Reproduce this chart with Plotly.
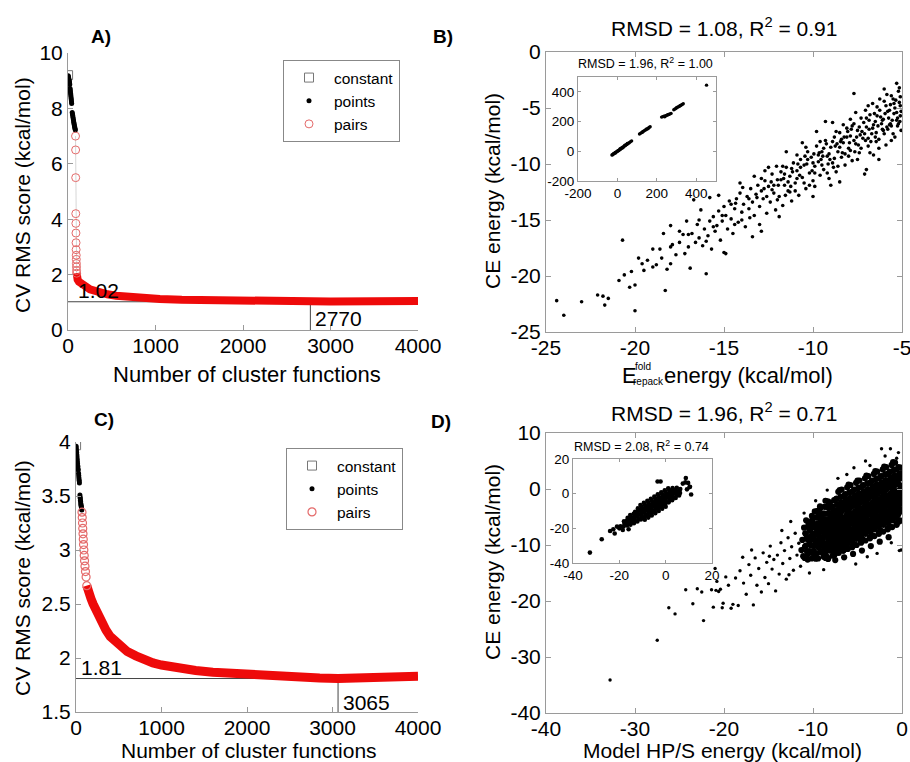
import plotly.graph_objects as go

FONT = "Liberation Sans, Arial, Helvetica, sans-serif"
W, H = 910, 762

# ---------------- Panel A data ----------------
A_const_x = [1]
A_const_y = [9.2]
A_points_x = [2, 4, 6, 8, 10, 12, 14, 16, 18, 20,
              24, 26, 28, 30, 32, 34, 36, 38, 40, 42,
              48, 51, 54, 57, 60, 63, 66, 69, 72, 75, 78, 81, 84]
A_points_y = [9.18, 9.15, 9.12, 9.08, 9.05, 9.02, 8.98, 8.94, 8.90, 8.86,
              8.72, 8.66, 8.60, 8.54, 8.48, 8.42, 8.36, 8.30, 8.24, 8.18,
              7.85, 7.80, 7.74, 7.68, 7.62, 7.56, 7.50, 7.45, 7.40, 7.35, 7.30, 7.26, 7.22]
A_pairs_x = [86, 87, 88, 89, 90, 91, 92, 93, 94, 95, 96, 97, 98, 99,
             100, 110, 125, 150, 175, 213, 250, 300, 366, 450, 550, 670, 800,
             1050, 1300, 1600, 2150, 2500, 2770, 3000, 3500, 4000]
A_pairs_y = [7.0, 6.5, 5.5, 4.2, 3.85, 3.5, 3.15, 2.9, 2.7, 2.55, 2.4, 2.28, 2.15, 2.05,
             1.9, 1.82, 1.74, 1.66, 1.6, 1.55, 1.47, 1.41, 1.35, 1.29, 1.24, 1.2, 1.16,
             1.12, 1.09, 1.07, 1.05, 1.035, 1.02, 1.03, 1.04, 1.05]
A_steep_n = 14
A_best_x = 2770
A_best_y = 1.02

# ---------------- Panel C data ----------------
C_const_x = [1]
C_const_y = [3.97]
C_points_x = [2, 4, 6, 8, 10, 12, 14, 16, 18, 20, 22, 24, 26,
              30, 32, 34, 36, 38, 40,
              46, 48, 50, 52, 54, 56, 58, 60, 62, 64, 66, 68]
C_points_y = [3.96, 3.94, 3.92, 3.90, 3.88, 3.86, 3.84, 3.82, 3.80, 3.78, 3.77, 3.75, 3.74,
              3.71, 3.69, 3.67, 3.65, 3.64, 3.62,
              3.51, 3.49, 3.48, 3.46, 3.45, 3.43, 3.42, 3.41, 3.40, 3.39, 3.38, 3.37]
C_pairs_x = [70, 73, 76, 79, 82, 85, 88, 92, 96, 100, 105, 111, 118, 126,
             135, 150, 175, 200, 250, 300, 350, 400, 450, 500, 600, 700, 800, 900,
             1000, 1200, 1400, 1600, 1800, 2000, 2300, 2600, 2850, 3065, 3300, 3600, 3800, 4000]
C_pairs_y = [3.35, 3.3, 3.25, 3.2, 3.15, 3.1, 3.05, 3.0, 2.95, 2.9, 2.85, 2.8, 2.75, 2.67,
             2.63, 2.6, 2.55, 2.5, 2.41, 2.33, 2.26, 2.2, 2.16, 2.12, 2.06, 2.02, 1.98, 1.955,
             1.935, 1.905, 1.885, 1.868, 1.857, 1.846, 1.835, 1.822, 1.814, 1.81, 1.813, 1.818, 1.823, 1.83]
C_steep_n = 14
C_best_x = 3065
C_best_y = 1.81

# ---------------- Panel B data (CE vs E_repack) ----------------
B_main = [
    (-24.4, -22.2), (-24.0, -23.5), (-23.0, -22.3), (-22.1, -21.7), (-21.7, -22.6), (-21.5, -22.0),
    (-21.8, -21.8), (-20.0, -23.1), (-20.9, -20.4), (-20.7, -16.8), (-20.6, -19.9), (-20.3, -21.0),
    (-20.2, -19.6), (-20.0, -20.8), (-19.8, -18.4), (-19.6, -18.9), (-19.5, -19.5), (-19.3, -18.6),
    (-19.0, -19.2), (-18.8, -19.0), (-18.6, -17.6), (-18.5, -18.4), (-18.3, -21.3), (-18.2, -19.4),
    (-18.0, -18.9), (-17.9, -17.2), (-17.7, -18.1), (-17.5, -17.0), (-17.3, -16.3), (-17.2, -18.0),
    (-17.0, -17.4), (-16.8, -16.2), (-16.9, -19.3), (-16.6, -17.0), (-16.5, -15.4), (-16.4, -16.6),
    (-16.2, -17.3), (-16.0, -19.8), (-16.1, -15.8), (-15.9, -16.4), (-15.8, -15.1), (-15.7, -17.6),
    (-15.6, -14.7), (-15.5, -16.0), (-15.4, -15.5), (-15.3, -14.2), (-15.2, -16.8), (-15.1, -15.1),
    (-15.0, -13.8), (-14.9, -18.0), (-14.9, -14.6), (-14.8, -15.8), (-14.7, -13.3), (-14.6, -14.9),
    (-14.5, -16.2), (-14.4, -14.0), (-14.3, -13.1), (-14.2, -15.2), (-14.1, -12.6), (-14.0, -14.3),
    (-13.9, -13.6), (-13.8, -15.6), (-13.7, -12.9), (-13.6, -14.0), (-13.5, -12.2), (-13.4, -16.5),
    (-13.4, -13.4), (-13.3, -14.6), (-13.2, -12.7), (-13.1, -11.9), (-13.0, -13.8), (-12.9, -16.0),
    (-12.9, -12.4), (-12.8, -13.1), (-12.7, -11.5), (-12.6, -14.4), (-12.5, -12.0), (-12.4, -13.4),
    (-12.3, -10.9), (-12.2, -12.6), (-12.1, -14.1), (-12.0, -11.4), (-11.9, -12.9), (-11.8, -10.7),
    (-11.7, -13.7), (-11.6, -11.9), (-11.5, -10.3), (-11.4, -12.4), (-11.3, -11.1), (-11.2, -13.3),
    (-11.1, -9.9), (-11.0, -11.7), (-10.9, -10.6), (-10.8, -12.8), (-10.7, -9.6), (-10.6, -11.2),
    (-10.5, -10.1), (-10.4, -12.2), (-10.3, -8.9), (-10.2, -10.8), (-10.1, -9.4), (-10.0, -11.5),
    (-9.9, -10.2), (-9.8, -8.4), (-9.7, -9.8), (-9.6, -11.0), (-9.5, -8.9), (-9.4, -10.5),
    (-9.3, -7.9), (-9.2, -9.3), (-9.1, -11.3), (-9.0, -8.5), (-8.9, -9.9), (-8.8, -7.6),
    (-8.7, -10.7), (-8.6, -8.9), (-8.5, -7.2), (-8.4, -9.4), (-8.3, -8.1), (-8.2, -10.1),
    (-8.1, -6.8), (-8.0, -8.6), (-7.9, -7.5), (-7.8, -9.7), (-7.7, -6.4), (-7.6, -8.2),
    (-7.5, -7.0), (-7.4, -9.0), (-7.3, -5.9), (-7.2, -7.7), (-7.1, -10.9), (-7.0, -6.7),
    (-6.9, -8.4), (-6.8, -5.6), (-6.7, -7.3), (-6.6, -9.2), (-6.5, -6.2), (-6.4, -4.9),
    (-6.3, -7.8), (-6.2, -5.8), (-6.1, -6.9), (-6.0, -4.4), (-5.9, -8.3), (-5.8, -5.3),
    (-5.7, -6.5), (-5.6, -3.9), (-5.5, -7.3), (-5.4, -5.0), (-5.3, -6.1), (-5.2, -3.5),
    (-5.1, -5.7), (-5.05, -7.0),
    (-14.35, -13.5), (-13.95, -12.1), (-13.55, -14.8), (-13.15, -13.0), (-12.75, -12.2), (-12.35, -11.6),
    (-11.95, -11.9), (-11.55, -12.8), (-11.15, -10.7), (-10.75, -11.0), (-10.35, -10.0), (-9.95, -9.1),
    (-9.55, -9.6), (-9.15, -10.0), (-8.75, -8.4), (-8.35, -9.0), (-7.95, -8.1), (-7.55, -7.6),
    (-7.15, -6.3), (-6.75, -8.0), (-6.35, -6.6), (-5.95, -5.5), (-5.55, -6.1), (-5.15, -4.5),
    (-12.05, -10.2), (-11.65, -11.3), (-11.25, -12.0), (-10.85, -10.0), (-10.45, -9.3), (-10.05, -10.6),
    (-9.65, -9.0), (-9.25, -8.2), (-8.85, -10.3), (-8.45, -8.0), (-8.05, -7.1), (-7.65, -8.9),
    (-7.25, -7.1), (-6.85, -6.1), (-6.45, -7.2), (-6.05, -6.0), (-5.65, -4.7), (-5.25, -6.6),
    (-9.45, -9.3), (-9.05, -9.6), (-8.65, -8.2), (-8.25, -7.6), (-7.85, -6.9), (-7.45, -8.3),
    (-7.05, -7.9), (-6.65, -6.8), (-6.25, -5.2), (-5.85, -6.7), (-5.45, -5.5), (-5.1, -4.0),
    (-6.55, -5.5), (-6.15, -6.4), (-5.75, -5.9), (-5.35, -4.3), (-5.12, -6.2), (-5.6, -7.9),
    (-6.0, -3.3), (-5.3, -2.8), (-6.9, -4.8), (-7.9, -6.0), (-8.9, -6.3), (-9.8, -7.1),
    (-10.6, -8.1), (-11.5, -8.9), (-12.5, -10.3), (-13.3, -11.1), (-14.1, -11.7), (-15.3, -12.8),
    (-16.3, -14.1), (-17.1, -15.1), (-18.4, -16.2), (-7.0, -10.5), (-6.3, -9.6), (-8.5, -11.6),
    (-10.0, -12.9), (-11.9, -14.7), (-13.0, -15.4), (-15.0, -17.9), (-7.7, -3.7), (-9.3, -6.2),
    (-16.7, -13.2), (-15.8, -13.0), (-18.0, -15.5), (-17.5, -16.0),
    (-12.9, -11.3), (-12.6, -12.9), (-12.3, -12.3), (-12.0, -13.2), (-11.8, -11.4), (-11.6, -10.9),
    (-11.4, -11.6), (-11.2, -10.4), (-11.0, -12.4), (-10.9, -11.3), (-10.7, -10.3), (-10.5, -11.7),
    (-10.3, -9.6), (-10.2, -11.9), (-10.0, -9.9), (-9.9, -10.8), (-9.7, -9.2), (-9.5, -10.1),
    (-9.4, -8.6), (-9.2, -10.8), (-9.1, -9.1), (-8.9, -8.0), (-8.8, -9.5), (-8.6, -10.2),
    (-8.5, -8.5), (-8.4, -7.8), (-8.2, -9.1), (-8.1, -7.6), (-7.9, -8.8), (-7.8, -6.6),
    (-7.7, -7.9), (-7.5, -9.6), (-7.4, -6.7), (-7.3, -8.6), (-7.1, -7.3), (-7.0, -5.9),
    (-6.9, -7.7), (-6.8, -9.0), (-6.6, -6.5), (-6.5, -7.6), (-6.4, -5.7), (-6.3, -8.6),
    (-6.1, -6.1), (-6.0, -7.3), (-5.9, -4.8), (-5.8, -6.9), (-5.7, -5.2), (-5.6, -6.6),
    (-5.5, -4.2), (-5.4, -7.6), (-5.3, -5.4), (-5.2, -6.4), (-5.15, -3.2), (-5.1, -4.8),
    (-5.05, -5.3), (-5.25, -5.9), (-5.45, -4.6), (-5.65, -6.4), (-5.85, -3.8), (-6.05, -7.0),
    (-6.25, -4.2), (-6.45, -8.0), (-6.65, -4.6), (-6.85, -6.9), (-7.05, -5.2), (-7.35, -7.4),
    (-7.6, -5.4), (-8.0, -9.3), (-8.3, -6.5), (-8.7, -7.1), (-9.0, -11.9), (-9.6, -8.0),
    (-9.9, -12.0), (-10.4, -8.5), (-10.9, -9.2), (-11.3, -12.5), (-11.7, -10.2), (-12.2, -11.9),
    (-12.7, -10.6), (-13.6, -13.1), (-14.0, -15.0), (-14.6, -13.6), (-15.1, -14.6), (-15.6, -15.6),
    (-16.4, -15.0), (-17.0, -16.3), (-19.0, -17.6), (-18.0, -17.4), (-16.0, -16.9), (-14.4, -15.4),
]

B_inset = [
    (-28, -25), (-24, -23), (-20, -16), (-16, -15), (-12, -8), (-8, -9), (-4, -1), (0, -2),
    (4, 6), (8, 5), (12, 14), (16, 13), (20, 22), (24, 21), (28, 30), (32, 29), (36, 37),
    (40, 38), (44, 45), (48, 46), (52, 50), (56, 55), (60, 57), (66, 64), (72, 70),
    (-22, -20), (-10, -12), (2, 3), (14, 17), (26, 25), (38, 41), (50, 53),
    (112, 116), (118, 122), (124, 126), (130, 133), (136, 138), (142, 143), (148, 150),
    (154, 152), (160, 160), (166, 165), (128, 130), (146, 147), (158, 156),
    (224, 230), (230, 233), (236, 236), (242, 238), (248, 241), (254, 244), (260, 248),
    (266, 251), (272, 255), (240, 232), (256, 247),
    (286, 280), (292, 285), (298, 290), (304, 296), (310, 300), (316, 305), (322, 310),
    (328, 315), (334, 320), (300, 294), (318, 306),
    (452, 445),
]

# ---------------- Panel D data (CE vs HP/S) ----------------
D_main_core = [
    (-11.1, -12.0), (-10.9, -10.3), (-11.2, -9.1), (-10.8, -8.0), (-11.0, -6.9), (-11.3, -10.9),
    (-10.6, -11.6), (-10.4, -9.9), (-10.7, -8.6), (-10.3, -7.4), (-10.5, -6.2), (-10.6, -12.6), (-10.4, -9.3),
    (-10.1, -11.4), (-9.9, -10.2), (-10.2, -9.0), (-9.8, -7.9), (-10.0, -6.8), (-10.1, -5.6), (-9.9, -12.3), (-10.2, -8.4),
    (-9.6, -11.5), (-9.4, -10.4), (-9.7, -9.6), (-9.3, -8.7), (-9.5, -7.9), (-9.6, -7.0), (-9.4, -6.1), (-9.2, -5.0), (-9.7, -12.4), (-9.5, -3.9),
    (-9.1, -11.3), (-8.9, -10.1), (-9.2, -9.2), (-8.8, -8.4), (-9.0, -7.5), (-9.1, -6.6), (-8.9, -5.7), (-9.0, -4.6), (-8.8, -12.1), (-9.2, -3.5),
    (-8.6, -11.6), (-8.4, -10.6), (-8.7, -9.7), (-8.3, -8.9), (-8.5, -8.0), (-8.6, -7.2), (-8.4, -6.4), (-8.2, -5.5), (-8.7, -4.4), (-8.5, -3.2), (-8.3, -12.5), (-8.6, -2.1),
    (-8.1, -11.0), (-7.9, -10.1), (-8.2, -9.3), (-7.8, -8.5), (-8.0, -7.7), (-8.1, -6.9), (-7.9, -6.1), (-7.7, -5.3), (-8.2, -4.3), (-8.0, -3.3), (-7.8, -11.9), (-8.1, -2.4),
    (-7.6, -10.8), (-7.4, -9.9), (-7.7, -9.1), (-7.3, -8.3), (-7.5, -7.6), (-7.6, -6.9), (-7.4, -6.2), (-7.2, -5.5), (-7.7, -4.7), (-7.5, -3.8), (-7.3, -2.8), (-7.6, -11.8), (-7.4, -1.8), (-7.5, -12.7),
    (-7.1, -10.5), (-6.9, -9.6), (-7.2, -8.7), (-6.8, -7.9), (-7.0, -7.2), (-7.1, -6.5), (-6.9, -5.8), (-6.7, -5.1), (-7.2, -4.3), (-7.0, -3.4), (-6.8, -2.4), (-7.1, -11.4), (-6.9, -1.4), (-7.0, -0.2),
    (-6.6, -10.1), (-6.4, -9.2), (-6.7, -8.4), (-6.3, -7.6), (-6.5, -6.8), (-6.6, -6.1), (-6.4, -5.4), (-6.2, -4.7), (-6.7, -3.9), (-6.5, -3.0), (-6.3, -2.0), (-6.6, -11.0), (-6.4, -1.0), (-6.5, -12.2),
    (-6.1, -9.7), (-5.9, -8.8), (-6.2, -8.0), (-5.8, -7.2), (-6.0, -6.5), (-6.1, -5.8), (-5.9, -5.1), (-5.7, -4.4), (-6.2, -3.6), (-6.0, -2.7), (-5.8, -1.7), (-6.1, -10.7), (-5.9, -0.6), (-6.0, 0.8),
    (-5.6, -9.3), (-5.4, -8.4), (-5.7, -7.6), (-5.3, -6.8), (-5.5, -6.1), (-5.6, -5.4), (-5.4, -4.7), (-5.2, -4.0), (-5.7, -3.2), (-5.5, -2.3), (-5.3, -1.3), (-5.6, -10.4), (-5.4, -0.2), (-5.5, -11.6),
    (-5.1, -8.9), (-4.9, -8.0), (-5.2, -7.2), (-4.8, -6.4), (-5.0, -5.7), (-5.1, -5.0), (-4.9, -4.3), (-4.7, -3.6), (-5.2, -2.8), (-5.0, -1.9), (-4.8, -0.9), (-5.1, -10.0), (-4.9, 0.2), (-5.0, 1.5),
    (-4.6, -8.5), (-4.4, -7.6), (-4.7, -6.8), (-4.3, -6.0), (-4.5, -5.3), (-4.6, -4.6), (-4.4, -3.9), (-4.2, -3.2), (-4.7, -2.4), (-4.5, -1.5), (-4.3, -0.5), (-4.6, -9.6), (-4.4, 0.6), (-4.5, -11.0),
    (-4.1, -8.0), (-3.9, -7.2), (-4.2, -6.4), (-3.8, -5.6), (-4.0, -4.9), (-4.1, -4.2), (-3.9, -3.5), (-3.7, -2.8), (-4.2, -2.0), (-4.0, -1.1), (-3.8, -0.1), (-4.1, -9.2), (-3.9, 1.0), (-4.0, 2.4),
    (-3.6, -7.6), (-3.4, -6.8), (-3.7, -6.0), (-3.3, -5.2), (-3.5, -4.5), (-3.6, -3.8), (-3.4, -3.1), (-3.2, -2.4), (-3.7, -1.6), (-3.5, -0.7), (-3.3, 0.3), (-3.6, -8.8), (-3.4, 1.4), (-3.5, -10.2),
    (-3.1, -7.2), (-2.9, -6.4), (-3.2, -5.6), (-2.8, -4.8), (-3.0, -4.1), (-3.1, -3.4), (-2.9, -2.7), (-2.7, -2.0), (-3.2, -1.2), (-3.0, -0.3), (-2.8, 0.7), (-3.1, -8.4), (-2.9, 1.8), (-3.0, 3.2),
    (-2.6, -6.8), (-2.4, -6.0), (-2.7, -5.2), (-2.3, -4.4), (-2.5, -3.7), (-2.6, -3.0), (-2.4, -2.3), (-2.2, -1.6), (-2.7, -0.8), (-2.5, 0.1), (-2.3, 1.1), (-2.6, -8.0), (-2.4, 2.2), (-2.5, -9.4),
    (-2.1, -6.4), (-1.9, -5.6), (-2.2, -4.8), (-1.8, -4.0), (-2.0, -3.3), (-2.1, -2.6), (-1.9, -1.9), (-1.7, -1.2), (-2.2, -0.4), (-2.0, 0.5), (-1.8, 1.5), (-2.1, -7.6), (-1.9, 2.6), (-2.0, 4.0),
    (-1.6, -6.0), (-1.4, -5.2), (-1.7, -4.4), (-1.3, -3.6), (-1.5, -2.9), (-1.6, -2.2), (-1.4, -1.5), (-1.2, -0.8), (-1.7, 0.0), (-1.5, 0.9), (-1.3, 1.9), (-1.6, -7.2), (-1.4, 3.0), (-1.5, -8.6),
    (-1.1, -5.6), (-0.9, -4.8), (-1.2, -4.0), (-0.8, -3.2), (-1.0, -2.5), (-1.1, -1.8), (-0.9, -1.1), (-0.7, -0.4), (-1.2, 0.4), (-1.0, 1.3), (-0.8, 2.3), (-1.1, -6.8), (-0.9, 3.4), (-1.0, 4.8),
    (-0.6, -5.2), (-0.4, -4.4), (-0.7, -3.6), (-0.3, -2.8), (-0.5, -2.1), (-0.6, -1.4), (-0.4, -0.7), (-0.2, 0.0), (-0.7, 0.8), (-0.5, 1.7), (-0.3, 2.7), (-0.6, -6.4),
    (-0.15, -4.0), (-0.1, -2.4), (-0.2, -0.9), (-0.1, 0.6), (-0.15, 2.0), (-0.1, 3.8), (-0.2, -5.6),
    (-10.93, -12.3), (-10.68, -11.1), (-10.8, -10.1), (-10.6, -9.0), (-10.87, -7.9), (-10.55, -6.7), (-10.77, -5.6),
    (-10.14, -12.4), (-10.41, -11.1), (-10.2, -10.1), (-10.34, -9.2), (-10.09, -8.2), (-10.43, -7.1), (-10.27, -5.9), (-10.12, -4.8),
    (-9.68, -12.4), (-9.91, -11.1), (-9.6, -10.0), (-9.87, -9.0), (-9.71, -8.1), (-9.55, -7.2), (-9.93, -6.2), (-9.64, -5.1), (-9.8, -4.0),
    (-9.43, -12.4), (-9.18, -11.1), (-9.3, -10.0), (-9.1, -9.1), (-9.37, -8.2), (-9.05, -7.3), (-9.27, -6.4), (-9.14, -5.4), (-9.41, -4.3), (-9.21, -3.1),
    (-8.59, -12.3), (-8.84, -11.0), (-8.7, -9.9), (-8.9, -9.0), (-8.63, -8.1), (-8.95, -7.2), (-8.77, -6.3), (-8.6, -5.4), (-8.86, -4.4), (-8.71, -3.2),
    (-8.43, -12.1), (-8.18, -10.8), (-8.3, -9.8), (-8.1, -8.9), (-8.37, -8.0), (-8.05, -7.1), (-8.27, -6.2), (-8.14, -5.3), (-8.41, -4.4), (-8.21, -3.4), (-8.34, -2.2),
    (-7.6, -11.7), (-7.86, -10.5), (-7.7, -9.5), (-7.93, -8.6), (-7.64, -7.7), (-7.81, -6.8), (-7.57, -5.9), (-7.9, -5.0), (-7.69, -4.1), (-7.84, -3.1), (-7.62, -2.0),
    (-7.43, -11.4), (-7.18, -10.2), (-7.3, -9.2), (-7.1, -8.3), (-7.37, -7.4), (-7.05, -6.5), (-7.27, -5.6), (-7.14, -4.7), (-7.41, -3.8), (-7.21, -2.8), (-7.34, -1.7), (-7.16, -0.5),
    (-6.6, -11.0), (-6.86, -9.8), (-6.7, -8.8), (-6.93, -7.9), (-6.64, -7.0), (-6.81, -6.1), (-6.57, -5.2), (-6.9, -4.3), (-6.69, -3.4), (-6.84, -2.4), (-6.62, -1.3), (-6.78, -0.1),
    (-6.43, -10.6), (-6.18, -9.4), (-6.3, -8.4), (-6.1, -7.5), (-6.37, -6.6), (-6.05, -5.7), (-6.27, -4.8), (-6.14, -3.9), (-6.41, -3.0), (-6.21, -2.0), (-6.34, -0.9), (-6.16, 0.3),
    (-5.6, -10.2), (-5.86, -9.0), (-5.7, -8.0), (-5.93, -7.1), (-5.64, -6.2), (-5.81, -5.3), (-5.57, -4.4), (-5.9, -3.5), (-5.69, -2.6), (-5.84, -1.6), (-5.62, -0.5), (-5.78, 0.7),
    (-5.43, -9.8), (-5.18, -8.6), (-5.3, -7.6), (-5.1, -6.7), (-5.37, -5.8), (-5.05, -4.9), (-5.27, -4.0), (-5.14, -3.1), (-5.41, -2.2), (-5.21, -1.2), (-5.34, -0.1), (-5.16, 1.1),
    (-4.6, -9.4), (-4.86, -8.2), (-4.7, -7.2), (-4.93, -6.3), (-4.64, -5.4), (-4.81, -4.5), (-4.57, -3.6), (-4.9, -2.7), (-4.69, -1.8), (-4.84, -0.8), (-4.62, 0.3), (-4.78, 1.5),
    (-4.43, -9.0), (-4.18, -7.8), (-4.3, -6.8), (-4.1, -5.9), (-4.37, -5.0), (-4.05, -4.1), (-4.27, -3.2), (-4.14, -2.3), (-4.41, -1.4), (-4.21, -0.4), (-4.34, 0.7), (-4.16, 1.9),
    (-3.6, -8.6), (-3.86, -7.4), (-3.7, -6.4), (-3.93, -5.5), (-3.64, -4.6), (-3.81, -3.7), (-3.57, -2.8), (-3.9, -1.9), (-3.69, -1.0), (-3.84, 0.0), (-3.62, 1.1), (-3.78, 2.3),
    (-3.43, -8.2), (-3.18, -7.0), (-3.3, -6.0), (-3.1, -5.1), (-3.37, -4.2), (-3.05, -3.3), (-3.27, -2.4), (-3.14, -1.5), (-3.41, -0.6), (-3.21, 0.4), (-3.34, 1.5), (-3.16, 2.7),
    (-2.6, -7.8), (-2.86, -6.6), (-2.7, -5.6), (-2.93, -4.7), (-2.64, -3.8), (-2.81, -2.9), (-2.57, -2.0), (-2.9, -1.1), (-2.69, -0.2), (-2.84, 0.8), (-2.62, 1.9), (-2.78, 3.1),
    (-2.43, -7.4), (-2.18, -6.2), (-2.3, -5.2), (-2.1, -4.3), (-2.37, -3.4), (-2.05, -2.5), (-2.27, -1.6), (-2.14, -0.7), (-2.41, 0.2), (-2.21, 1.2), (-2.34, 2.3), (-2.16, 3.5),
    (-1.6, -7.0), (-1.86, -5.8), (-1.7, -4.8), (-1.93, -3.9), (-1.64, -3.0), (-1.81, -2.1), (-1.57, -1.2), (-1.9, -0.3), (-1.69, 0.6), (-1.84, 1.6), (-1.62, 2.7), (-1.78, 3.9),
    (-1.43, -6.6), (-1.18, -5.4), (-1.3, -4.4), (-1.1, -3.5), (-1.37, -2.6), (-1.05, -1.7), (-1.27, -0.8), (-1.14, 0.1), (-1.41, 1.0), (-1.21, 2.0), (-1.34, 3.1), (-1.16, 4.3),
    (-0.6, -6.2), (-0.86, -5.0), (-0.7, -4.0), (-0.93, -3.1), (-0.64, -2.2), (-0.81, -1.3), (-0.57, -0.4), (-0.9, 0.5), (-0.69, 1.4), (-0.84, 2.4), (-0.62, 3.5), (-0.78, 4.7),
    (-0.3, -5.8), (-0.45, -4.6), (-0.25, -3.6), (-0.4, -2.7), (-0.2, -1.8), (-0.35, -0.9), (-0.15, 0.0), (-0.42, 0.9), (-0.28, 1.8), (-0.12, 2.8), (-0.38, 3.9),
]
D_main_sparse = [
    (-21.0, -14.2), (-20.8, -16.5), (-20.6, -18.3), (-20.4, -17.9), (-20.1, -20.4), (-19.5, -17.2),
    (-19.0, -20.6), (-18.7, -15.9), (-18.4, -20.8), (-18.2, -14.6), (-17.8, -16.8), (-17.5, -18.8),
    (-17.2, -13.5), (-17.0, -15.4), (-16.7, -20.7), (-16.5, -12.3), (-16.3, -17.2), (-16.1, -14.2),
    (-15.8, -18.4), (-15.6, -11.4), (-15.4, -15.8), (-15.2, -13.1), (-15.0, -16.9), (-14.8, -10.2),
    (-14.6, -14.3), (-14.4, -12.6), (-14.2, -18.2), (-14.0, -11.8), (-13.8, -15.2), (-13.6, -9.6),
    (-13.4, -13.3), (-13.2, -11.0), (-13.0, -16.1), (-12.8, -8.7), (-12.6, -12.4), (-12.4, -10.3),
    (-12.2, -14.5), (-12.0, -7.9), (-11.8, -11.8), (-11.6, -9.7), (-11.4, -13.8), (-12.7, -15.3),
    (-13.5, -7.4), (-14.9, -12.0), (-16.9, -10.9), (-17.9, -12.2), (-19.8, -15.7), (-21.4, -18.0),
    (-22.5, -18.4),
    (-32.8, -34.1), (-27.5, -27.0), (-26.2, -21.2), (-25.5, -22.3), (-24.3, -18.0), (-23.5, -20.5),
    (-22.3, -23.5), (-21.2, -21.1), (-20.9, -18.1), (-20.2, -21.2), (-19.2, -21.3), (-23.0, -17.8),
    (-2.3, 7.2), (-1.3, 7.2), (-0.6, 5.5), (-1.9, 5.9), (-3.6, 4.2), (-5.4, 3.8), (-7.2, 1.9),
    (-8.4, -0.2), (-9.7, -2.1), (-11.0, -4.3), (-12.5, -5.8), (-6.2, 2.6), (-4.1, 5.0), (-0.4, 6.5),
    (-0.3, -11.0), (-2.8, -11.5), (-5.2, -13.4), (-8.8, -14.4), (-10.4, -15.0), (-1.2, -9.6), (-3.9, -12.1),
    (-0.1, -10.9),
]
D_inset = [
    (-18.2, -18.9), (-17.8, -17.4), (-18.0, -15.9), (-17.6, -16.6),
    (-16.7, -18.4), (-16.3, -16.8), (-16.6, -15.3), (-16.4, -13.9), (-16.8, -16.0),
    (-15.2, -17.9), (-14.8, -16.2), (-15.1, -14.9), (-14.9, -13.6), (-15.3, -12.3), (-14.7, -15.5),
    (-13.7, -17.0), (-13.3, -15.4), (-13.6, -14.1), (-13.4, -12.9), (-13.8, -11.6), (-13.2, -10.4), (-13.5, -13.5),
    (-12.2, -16.1), (-11.8, -14.6), (-12.1, -13.3), (-11.9, -12.1), (-12.3, -10.9), (-11.7, -9.7), (-12.0, -8.5), (-12.4, -12.6),
    (-10.7, -14.9), (-10.3, -13.4), (-10.6, -12.1), (-10.4, -11.0), (-10.8, -9.8), (-10.2, -8.6), (-10.5, -7.4), (-10.1, -10.3), (-10.9, -6.5),
    (-9.2, -13.7), (-8.8, -12.3), (-9.1, -11.0), (-8.9, -9.9), (-9.3, -8.8), (-8.7, -7.7), (-9.0, -6.4), (-8.6, -9.3), (-9.4, -5.3), (-9.0, -15.0),
    (-7.7, -12.4), (-7.3, -11.0), (-7.6, -9.8), (-7.4, -8.7), (-7.8, -7.6), (-7.2, -6.5), (-7.5, -5.2), (-7.1, -8.1), (-7.9, -4.1), (-7.5, -13.8),
    (-6.2, -11.2), (-5.8, -9.8), (-6.1, -8.6), (-5.9, -7.5), (-6.3, -6.4), (-5.7, -5.3), (-6.0, -4.0), (-5.6, -6.9), (-6.4, -2.9), (-6.0, -12.6),
    (-4.7, -10.0), (-4.3, -8.6), (-4.6, -7.4), (-4.4, -6.3), (-4.8, -5.2), (-4.2, -4.1), (-4.5, -2.8), (-4.1, -5.7), (-4.9, -1.7), (-4.5, -11.3),
    (-3.2, -8.8), (-2.8, -7.3), (-3.1, -6.1), (-2.9, -5.0), (-3.3, -3.9), (-2.7, -2.8), (-3.0, -1.6), (-2.6, -4.4), (-3.4, -0.4), (-3.0, -10.0),
    (-1.7, -7.5), (-1.3, -6.1), (-1.6, -4.9), (-1.4, -3.8), (-1.8, -2.7), (-1.2, -1.6), (-1.5, -0.4), (-1.1, -3.2), (-1.9, 0.8), (-1.5, -8.7),
    (-0.2, -6.3), (0.2, -4.8), (-0.1, -3.6), (0.1, -2.5), (-0.3, -1.4), (0.3, -0.3), (0.0, 0.9), (0.4, -2.0), (-0.4, 2.0), (0.0, -7.5),
    (1.3, -5.0), (1.7, -3.6), (1.4, -2.4), (1.6, -1.3), (1.2, -0.2), (1.8, 0.9), (1.5, 2.1), (1.9, -0.7), (1.1, 3.1),
    (2.8, -3.8), (3.2, -2.4), (2.9, -1.2), (3.1, -0.1), (2.7, 1.0), (3.3, 2.1), (3.0, 3.2),
    (4.3, -2.5), (4.7, -1.1), (4.4, 0.1), (4.6, 1.2), (4.2, 2.3), (4.8, 3.4),
    (5.8, -1.0), (6.2, 0.4), (5.9, 1.6), (6.3, 2.7),
    (-32.7, -34.0), (-27.6, -26.3), (-24.0, -21.5), (-22.0, -23.0), (-21.0, -19.0), (-20.0, -20.0),
    (-19.5, -18.8), (-22.6, -20.5), (-18.5, -21.0), (-16.0, -20.5), (10.5, 4.0), (8.5, 6.5), (9.2, 2.5),
    (7.4, 5.8), (11.0, -0.5), (-3.5, 7.0), (-2.2, 7.0), (8.7, 9.0), (9.7, 6.2), (10.3, 3.8),
]

# tick values
A_xticks = [0, 1000, 2000, 3000, 4000]
A_yticks = [0, 2, 4, 6, 8, 10]
C_yticks = [1.5, 2, 2.5, 3, 3.5, 4]
B_xticks = [-25, -20, -15, -10, -5]
B_yticks = [-25, -20, -15, -10, -5, 0]
D_xticks = [-40, -30, -20, -10, 0]
D_yticks = [-40, -30, -20, -10, 0, 10]
BI_ticks = [-200, 0, 200, 400]
DI_ticks = [-40, -20, 0, 20]


# ---------------- helpers ----------------
def px(x):
    return x / W


def py(y):
    return 1 - y / H


def xs(pts):
    return [p[0] for p in pts]


def ys(pts):
    return [p[1] for p in pts]


def lbl(v):
    return f"{v:g}"


AXC = "#9a9a9a"
TICKF = dict(family=FONT, size=21, color="black")
INSF = dict(family=FONT, size=13.5, color="black")

fig = go.Figure()

# ---------- Panel A traces ----------
fig.add_trace(go.Scatter(x=[0, A_best_x], y=[A_best_y, A_best_y], mode="lines",
                         line=dict(color="#444", width=1), showlegend=False, hoverinfo="skip",
                         xaxis="x", yaxis="y"))
fig.add_trace(go.Scatter(x=[A_best_x, A_best_x], y=[0, A_best_y], mode="lines",
                         line=dict(color="#444", width=1), showlegend=False, hoverinfo="skip",
                         xaxis="x", yaxis="y"))
fig.add_trace(go.Scatter(x=A_pairs_x[:A_steep_n + 1], y=A_pairs_y[:A_steep_n + 1], mode="lines",
                         line=dict(color="#cccccc", width=0.8), showlegend=False, hoverinfo="skip",
                         xaxis="x", yaxis="y"))
fig.add_trace(go.Scatter(x=A_pairs_x[A_steep_n - 1:], y=A_pairs_y[A_steep_n - 1:], mode="lines",
                         line=dict(color="#ee0a0a", width=8), showlegend=False, hoverinfo="skip",
                         xaxis="x", yaxis="y"))
fig.add_trace(go.Scatter(x=A_const_x, y=A_const_y, mode="markers", name="constant",
                         marker=dict(symbol="square-open", size=9, color="#777", line=dict(width=1)),
                         xaxis="x", yaxis="y", legend="legend"))
fig.add_trace(go.Scatter(x=A_points_x, y=A_points_y, mode="markers", name="points",
                         marker=dict(symbol="circle", size=5, color="black"),
                         xaxis="x", yaxis="y", legend="legend"))
fig.add_trace(go.Scatter(x=A_pairs_x[:A_steep_n], y=A_pairs_y[:A_steep_n], mode="markers", name="pairs",
                         marker=dict(symbol="circle-open", size=8, color="#e46a6a", line=dict(width=1)),
                         xaxis="x", yaxis="y", legend="legend"))

# ---------- Panel C traces ----------
fig.add_trace(go.Scatter(x=[0, C_best_x], y=[C_best_y, C_best_y], mode="lines",
                         line=dict(color="#444", width=1), showlegend=False, hoverinfo="skip",
                         xaxis="x3", yaxis="y3"))
fig.add_trace(go.Scatter(x=[C_best_x, C_best_x], y=[1.5, C_best_y], mode="lines",
                         line=dict(color="#444", width=1), showlegend=False, hoverinfo="skip",
                         xaxis="x3", yaxis="y3"))
fig.add_trace(go.Scatter(x=C_pairs_x[C_steep_n - 1:], y=C_pairs_y[C_steep_n - 1:], mode="lines",
                         line=dict(color="#ee0a0a", width=9), showlegend=False, hoverinfo="skip",
                         xaxis="x3", yaxis="y3"))
fig.add_trace(go.Scatter(x=C_const_x, y=C_const_y, mode="markers", name="constant",
                         marker=dict(symbol="square-open", size=9, color="#777", line=dict(width=1)),
                         xaxis="x3", yaxis="y3", legend="legend2"))
fig.add_trace(go.Scatter(x=C_points_x, y=C_points_y, mode="markers", name="points",
                         marker=dict(symbol="circle", size=5, color="black"),
                         xaxis="x3", yaxis="y3", legend="legend2"))
fig.add_trace(go.Scatter(x=C_pairs_x[:C_steep_n], y=C_pairs_y[:C_steep_n], mode="markers", name="pairs",
                         marker=dict(symbol="circle-open", size=8, color="#e46a6a", line=dict(width=1.2)),
                         xaxis="x3", yaxis="y3", legend="legend2"))

# ---------- Panel B / D scatter ----------
fig.add_trace(go.Scatter(x=xs(B_main), y=ys(B_main), mode="markers", showlegend=False,
                         marker=dict(size=3.6, color="black"), xaxis="x2", yaxis="y2"))
fig.add_trace(go.Scatter(x=xs(D_main_core), y=ys(D_main_core), mode="markers", showlegend=False,
                         marker=dict(size=6.2, color="black"), xaxis="x4", yaxis="y4"))
fig.add_trace(go.Scatter(x=xs(D_main_sparse), y=ys(D_main_sparse), mode="markers", showlegend=False,
                         marker=dict(size=3.4, color="black"), xaxis="x4", yaxis="y4"))
fig.add_trace(go.Scatter(x=xs(B_inset), y=ys(B_inset), mode="markers", showlegend=False,
                         marker=dict(size=3.4, color="black"), xaxis="x5", yaxis="y5"))
fig.add_trace(go.Scatter(x=xs(D_inset), y=ys(D_inset), mode="markers", showlegend=False,
                         marker=dict(size=4.6, color="black"), xaxis="x6", yaxis="y6"))


def axis(domain, rng, anchor, tickvals, mirror=False, font=TICKF, ticklen=5, standoff=0):
    return dict(domain=domain, range=rng, anchor=anchor, tickmode="array",
                tickvals=tickvals, ticktext=[lbl(v) for v in tickvals],
                showgrid=False, zeroline=False, showline=True, linecolor=AXC, linewidth=1,
                mirror=("ticks" if mirror else False), ticks="inside", ticklen=ticklen,
                tickcolor=AXC, tickfont=font, automargin=False, fixedrange=True,
                ticklabeloverflow="allow", ticklabelstandoff=standoff)


layout = dict(
    template="none",
    width=W, height=H, autosize=False,
    margin=dict(l=0, r=0, t=0, b=0, pad=0),
    paper_bgcolor="white", plot_bgcolor="rgba(0,0,0,0)",
    font=dict(family=FONT, color="black"),
    xaxis=axis([px(68), px(418)], [0, 4000], "y", A_xticks, standoff=-3),
    yaxis=axis([py(330), py(53)], [0, 10], "x", A_yticks),
    xaxis2=axis([px(546), px(902)], [-25, -5], "y2", B_xticks, mirror=True, standoff=-3),
    yaxis2=axis([py(332), py(52)], [-25, 0], "x2", B_yticks, mirror=True),
    xaxis3=axis([px(76), px(418)], [0, 4000], "y3", A_xticks, standoff=-3),
    yaxis3=axis([py(712), py(442)], [1.5, 4], "x3", C_yticks),
    xaxis4=axis([px(546), px(902)], [-40, 0], "y4", D_xticks, mirror=True, standoff=-3),
    yaxis4=axis([py(713), py(433)], [-40, 10], "x4", D_yticks, mirror=True),
    xaxis5=axis([px(578), px(716)], [-200, 500], "y5", BI_ticks, mirror=True, font=INSF, ticklen=3),
    yaxis5=axis([py(181), py(77)], [-200, 500], "x5", BI_ticks, mirror=True, font=INSF, ticklen=3),
    xaxis6=axis([px(573), px(712)], [-40, 20], "y6", DI_ticks, mirror=True, font=INSF, ticklen=3),
    yaxis6=axis([py(563), py(459)], [-40, 20], "x6", DI_ticks, mirror=True, font=INSF, ticklen=3),
    legend=dict(x=px(283), y=py(60), xanchor="left", yanchor="top", bordercolor="#888", borderwidth=1,
                bgcolor="white", font=dict(family=FONT, size=15.5), tracegroupgap=0, itemwidth=40),
    legend2=dict(x=px(286), y=py(448), xanchor="left", yanchor="top", bordercolor="#888", borderwidth=1,
                 bgcolor="white", font=dict(family=FONT, size=15.5), tracegroupgap=0, itemwidth=40),
)
fig.update_layout(**layout)


def ann(text, x, y, size=21, bold=False, angle=0, xanchor="center", yanchor="middle"):
    t = f"<b>{text}</b>" if bold else text
    fig.add_annotation(text=t, x=px(x), y=py(y), xref="paper", yref="paper", showarrow=False,
                       font=dict(family=FONT, size=size, color="black"), textangle=angle,
                       xanchor=xanchor, yanchor=yanchor)


# panel letters
ann("A)", 101, 36, size=19, bold=True)
ann("B)", 443, 37, size=19, bold=True)
ann("C)", 104, 419, size=19, bold=True)
ann("D)", 441, 421, size=19, bold=True)
# titles
ann("RMSD = 1.08, R<sup>2</sup> = 0.91", 724, 27, size=21)
ann("RMSD = 1.96, R<sup>2</sup> = 0.71", 724, 412, size=21)
ann("RMSD = 1.96, R<sup>2</sup> = 1.00", 645, 63, size=12.5)
ann("RMSD = 2.08, R<sup>2</sup> = 0.74", 641, 446, size=12.5)
# axis titles
ann("CV RMS score (kcal/mol)", 22, 195, size=21, angle=-90)
ann("Number of cluster functions", 247, 374, size=22)
ann("CE energy (kcal/mol)", 492, 191, size=21, angle=-90)
ann("E", 620, 375, size=22, xanchor="left")
ann("fold", 633, 367, size=10, xanchor="left")
ann("repack", 631, 381, size=10, xanchor="left")
ann("energy (kcal/mol)", 662, 375, size=22, xanchor="left")
ann("CV RMS score (kcal/mol)", 22, 578, size=21, angle=-90)
ann("Number of cluster functions", 249, 750, size=21)
ann("CE energy (kcal/mol)", 492, 562, size=21, angle=-90)
ann("Model HP/S energy (kcal/mol)", 722, 750, size=21)

# best-value labels (data coordinates)
fig.add_annotation(text=f"{A_best_y:.2f}", x=0, y=A_best_y, xref="x", yref="y", showarrow=False,
                   xanchor="left", yanchor="bottom", xshift=8, yshift=-2,
                   font=dict(family=FONT, size=21, color="black"))
fig.add_annotation(text=f"{A_best_x}", x=A_best_x, y=A_best_y, xref="x", yref="y", showarrow=False,
                   xanchor="left", yanchor="top", xshift=3, yshift=-3,
                   font=dict(family=FONT, size=21, color="black"))
fig.add_annotation(text=f"{C_best_y:.2f}", x=0, y=C_best_y, xref="x3", yref="y3", showarrow=False,
                   xanchor="left", yanchor="bottom", xshift=3, yshift=-2,
                   font=dict(family=FONT, size=21, color="black"))
fig.add_annotation(text=f"{C_best_x}", x=C_best_x, y=C_best_y, xref="x3", yref="y3", showarrow=False,
                   xanchor="left", yanchor="top", xshift=3, yshift=-10,
                   font=dict(family=FONT, size=21, color="black"))

fig.write_html("out.html", config={"displayModeBar": False},
               post_script="document.body.style.margin='0';document.body.style.overflow='hidden';")
